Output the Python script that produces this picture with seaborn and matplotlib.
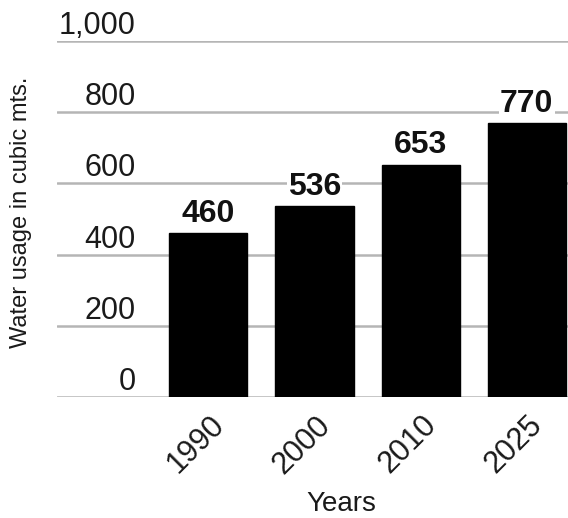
import matplotlib
matplotlib.use("Agg")
import matplotlib.pyplot as plt
import matplotlib.transforms as mtransforms
import seaborn as sns
import pandas as pd

years = ["1990", "2000", "2010", "2025"]
usage = [460, 536, 653, 770]
yticks = [0, 200, 400, 600, 800, 1000]

sns.set_style("white")
plt.rcParams["font.family"] = ["Liberation Sans", "DejaVu Sans"]

df = pd.DataFrame({"Years": years, "Usage": usage})

fig = plt.figure(figsize=(5.68, 5.18), dpi=100)
ax = fig.add_axes([0.100, 0.2336, 0.900, 0.6872])

sns.barplot(data=df, x="Years", y="Usage", color="black", width=0.736,
            saturation=1, ax=ax, zorder=3)
for p in ax.patches:
    p.set_edgecolor("black")

labels = ax.bar_label(ax.containers[0], labels=[str(v) for v in usage],
                      padding=3, fontsize=23, fontweight="bold", color="#111111")
for t in labels:
    t.set_bbox(dict(facecolor="white", edgecolor="none", pad=1))
    t.set_zorder(4)

ax.set_xlim(-1.43, 3.39)
ax.set_ylim(0, 1000)
ax.set_yticks(yticks)
ax.set_yticklabels([f"{v:,}" for v in yticks], fontsize=22, color="#1a1a1a")
ax.tick_params(axis="y", length=0, pad=-57)
for lab in ax.get_yticklabels():
    lab.set_verticalalignment("bottom")

ax.yaxis.grid(True, color="#b5b5b5", linewidth=1.8, zorder=0)
ax.set_axisbelow(True)
for s in ax.spines.values():
    s.set_visible(False)

ax.tick_params(axis="x", length=6, width=1.2, color="#b5b5b5", pad=11)
offset = mtransforms.ScaledTranslation(8 / 72, 0, fig.dpi_scale_trans)
for lab in ax.get_xticklabels():
    lab.set_rotation(45)
    lab.set_rotation_mode("anchor")
    lab.set_horizontalalignment("right")
    lab.set_verticalalignment("center")
    lab.set_fontsize(22)
    lab.set_color("#1a1a1a")
    lab.set_transform(lab.get_transform() + offset)

ax.set_xlabel("Years", fontsize=20, color="#1a1a1a")
ax.xaxis.set_label_coords(0.556, -0.265)
ax.set_ylabel("Water usage in cubic mts.", fontsize=17, color="#1a1a1a")
ax.yaxis.set_label_coords(-0.049, 0.52)

fig.savefig("out.png", dpi=100)
